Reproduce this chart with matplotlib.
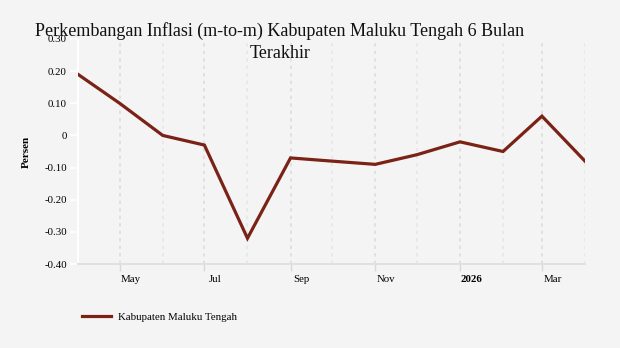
import matplotlib
matplotlib.use("Agg")
import matplotlib.pyplot as plt
import matplotlib.dates as mdates
import matplotlib.transforms as mtransforms
from datetime import datetime

# monthly m-to-m inflation, Kabupaten Maluku Tengah
months = ["2025-04", "2025-05", "2025-06", "2025-07", "2025-08", "2025-09", "2025-10",
          "2025-11", "2025-12", "2026-01", "2026-02", "2026-03", "2026-04"]
inflasi = [0.19, 0.10, 0.00, -0.03, -0.32, -0.07, -0.08, -0.09, -0.06, -0.02, -0.05, 0.06, -0.08]
y_ticks = [-0.40, -0.30, -0.20, -0.10, 0.0, 0.10, 0.20, 0.30]
series_name = "Kabupaten Maluku Tengah"
title = "Perkembangan Inflasi (m-to-m) Kabupaten Maluku Tengah 6 Bulan\nTerakhir"

BG = "#f4f4f4"
LINE = "#7a2216"

plt.rcParams["font.family"] = ["Liberation Serif", "DejaVu Serif"]

dates = [datetime.strptime(m, "%Y-%m") for m in months]

fig = plt.figure(figsize=(6.2, 3.48), dpi=100, facecolor=BG)
ax = fig.add_axes([78 / 620, 1 - 264 / 348, 507 / 620, 225 / 348])
ax.set_facecolor(BG)

line, = ax.plot(dates, inflasi, color=LINE, lw=2.3, solid_joinstyle="miter", zorder=3)

ax.set_xlim(dates[0], dates[-1])
ax.set_ylim(-0.40, 0.30)
ax.set_yticks(y_ticks)
ax.set_yticklabels(["0" if v == 0 else f"{v:.2f}" for v in y_ticks])

ax.xaxis.set_major_locator(mdates.MonthLocator(bymonth=[1, 3, 5, 7, 9, 11]))
ax.xaxis.set_minor_locator(mdates.MonthLocator())


def month_label(x, pos=None):
    d = mdates.num2date(x)
    return str(d.year) if d.month == 1 else d.strftime("%b")


ax.xaxis.set_major_formatter(plt.FuncFormatter(month_label))
ax.xaxis.set_minor_formatter(plt.NullFormatter())

ax.grid(axis="x", which="major", color="#dcdcdc", ls=(0, (2, 2.5)), lw=1.2)
ax.grid(axis="x", which="minor", color="#e6e6e6", ls=(0, (2, 2.5)), lw=1.2)
ax.grid(axis="y", visible=False)

for s in ["top", "right"]:
    ax.spines[s].set_visible(False)
ax.spines["left"].set_color("white")
ax.spines["left"].set_linewidth(1.5)
ax.spines["bottom"].set_color("#e0e0e0")
ax.spines["bottom"].set_linewidth(1.5)

ax.tick_params(axis="y", length=6, width=1.2, color="white", labelsize=7.8, pad=2)
ax.tick_params(axis="x", which="major", length=5, width=1, color="#d8d8d8",
               labelsize=7.8, pad=3)
ax.tick_params(axis="x", which="minor", length=0)

# labels sit to the right of their tick
shift = mtransforms.ScaledTranslation(11 / 100, 0, fig.dpi_scale_trans)
for lbl in ax.get_xticklabels():
    lbl.set_transform(lbl.get_transform() + shift)
    if lbl.get_text().isdigit():
        lbl.set_fontweight("bold")

ax.set_ylabel("Persen", fontsize=8, fontweight="bold", labelpad=10)

fig.text(280 / 620, 1 - 42 / 348, title, ha="center", va="center",
         fontsize=13, linespacing=1.45, color="#111111")

fig.legend([line], [series_name], loc="center left", bbox_to_anchor=(72 / 620, 1 - 317 / 348),
           frameon=False, fontsize=7.8, handlelength=2.7, handletextpad=0.6)

fig.savefig("out.png", dpi=100, facecolor=BG)
